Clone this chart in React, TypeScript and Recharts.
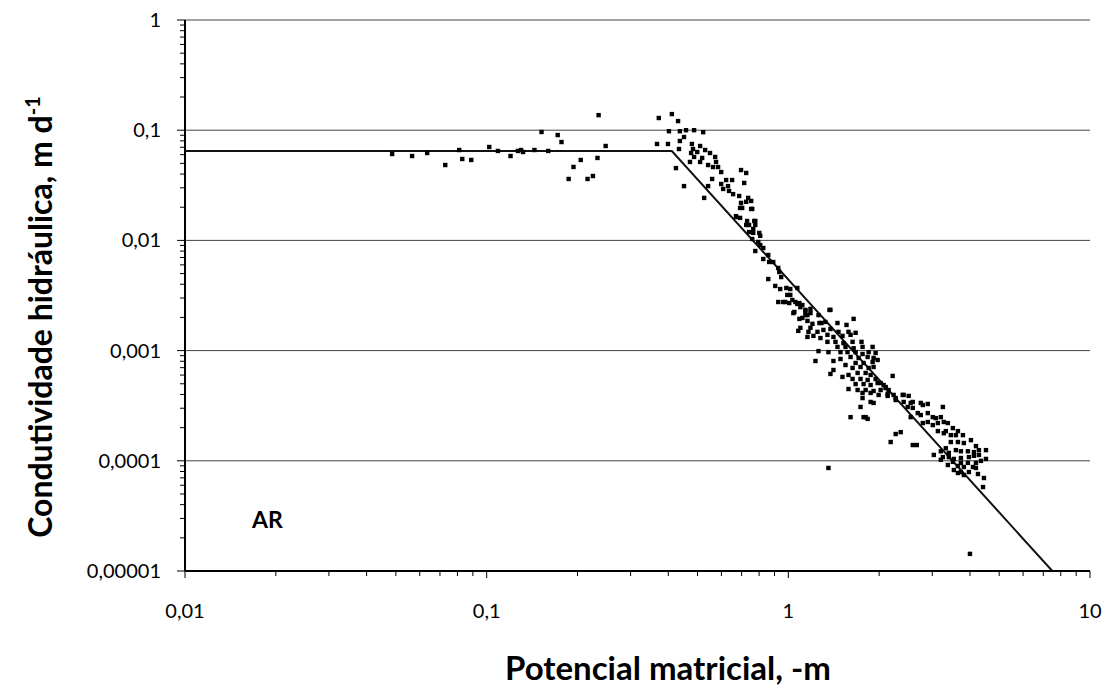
import { ReferenceLine, Scatter, ScatterChart, XAxis, YAxis } from "recharts";

// potencial matricial (-m) e condutividade hidráulica (m/d)
const potencial = [
  0.0486, 0.0566, 0.0635, 0.0729, 0.0811, 0.083, 0.0889, 0.102, 0.109, 0.12,
  0.127, 0.13, 0.132, 0.144, 0.152, 0.16, 0.172, 0.177, 0.187, 0.194,
  0.205, 0.216, 0.225, 0.233, 0.235, 0.248,
  0.372, 0.411, 0.431, 0.402, 0.437, 0.458, 0.487, 0.522, 0.451, 0.437,
  0.367, 0.399, 0.434, 0.479, 0.51, 0.483, 0.476, 0.499, 0.53, 0.55,
  0.487, 0.518, 0.572, 0.472, 0.51, 0.542, 0.563, 0.585, 0.599, 0.424,
  0.576, 0.697, 0.725, 0.559, 0.622, 0.651, 0.599, 0.631, 0.714, 0.451,
  0.542, 0.608, 0.636, 0.656, 0.687, 0.736, 0.526, 0.697, 0.725, 0.692,
  0.753, 0.671, 0.692, 0.73, 0.777, 0.725, 0.765, 0.741, 0.801,
  0.703, 0.753, 0.759, 0.671, 0.771, 0.741, 0.777, 0.765, 0.807, 0.759,
  0.795, 0.807, 0.777, 0.826, 0.858, 0.826, 0.864, 0.891, 0.926, 0.933,
  0.858, 0.947, 0.905, 0.94, 0.985, 1.015, 1.071, 1.015, 0.926, 0.977,
  1.031, 1.007, 1.055, 1.088, 1.096, 1.047, 1.139, 1.157, 1.184, 1.113,
  1.259, 1.369, 1.288, 1.184, 1.096,
  0.992, 0.962, 1.071, 1.113, 1.139, 1.379, 1.039, 1.139, 1.184, 1.088,
  1.157, 1.268, 1.327, 1.455, 1.559, 1.646, 1.202, 1.079, 1.166, 1.249,
  1.307, 1.379, 1.466, 1.583, 1.671, 1.157, 1.211, 1.278, 1.348, 1.411,
  1.512, 1.608, 1.348, 1.433, 1.523, 1.633, 1.748, 1.455, 1.547, 1.646,
  1.762, 1.903, 1.259, 1.358, 1.489, 1.571, 1.671, 1.762, 1.846, 1.947,
  1.608, 1.71, 1.832, 1.917, 1.23, 1.411, 1.489, 1.671, 1.776, 1.903,
  1.977, 1.547, 1.633, 1.735, 1.846, 1.917, 1.411, 1.379, 1.583, 1.697,
  1.804, 1.874, 1.512, 1.633, 1.735, 1.832, 1.947, 2.218, 1.671, 1.776,
  1.874, 2.023, 2.102, 1.583, 1.697, 1.804, 1.917, 2.023, 2.15, 1.762,
  1.874, 1.992, 2.134, 2.269, 2.412, 2.506, 1.762, 1.874, 1.735, 1.608,
  1.804,
  1.977, 2.07, 2.102, 2.134, 2.234, 2.394, 2.269, 2.412, 2.545, 2.585,
  2.748, 2.899, 1.917, 2.487, 2.585, 2.686, 2.791, 3.253, 2.545, 2.748,
  2.899, 3.012, 3.083, 3.203, 3.276, 3.379, 3.012, 3.131, 2.899, 2.791,
  1.776, 1.832, 3.131, 3.327, 3.511, 3.649, 3.276, 3.457, 3.593, 3.791,
  2.358, 2.269, 2.184, 3.457, 3.649, 3.818, 4.03, 4.187, 4.283, 4.52,
  4.123, 2.585, 2.666, 3.327, 3.593, 3.733, 3.938, 3.203, 3.404, 3.036,
  3.253, 3.404, 3.538, 3.733, 3.968, 4.123, 4.283, 4.52, 3.203, 3.511,
  3.733, 3.938, 4.187, 4.35, 3.379, 3.649, 3.818, 4.093, 3.538, 3.733,
  3.968, 4.187, 4.252, 4.451, 3.818, 3.649,
  1.358, 4.0, 4.42,
];

const condutividade = [
  0.0608, 0.0583, 0.0621, 0.0483, 0.0661, 0.0548, 0.0537, 0.0704, 0.0648, 0.0583,
  0.0648, 0.0661, 0.0634, 0.0661, 0.0963, 0.0648, 0.0904, 0.0781, 0.0361, 0.0464,
  0.0537, 0.0361, 0.0384, 0.056, 0.137, 0.0719,
  0.129, 0.14, 0.121, 0.0979, 0.0979, 0.1, 0.1, 0.0959, 0.0867, 0.0798,
  0.075, 0.075, 0.0675, 0.075, 0.0719, 0.0675, 0.0621, 0.0634, 0.0661, 0.0621,
  0.0572, 0.056, 0.0572, 0.0515, 0.0515, 0.0483, 0.0463, 0.0463, 0.0417, 0.0453,
  0.0515, 0.0435, 0.0409, 0.0361, 0.0353, 0.0353, 0.0325, 0.0311, 0.0332, 0.0311,
  0.0311, 0.0293, 0.0281, 0.0263, 0.0253, 0.0243, 0.0243, 0.0219, 0.0224, 0.0197,
  0.0193, 0.0166, 0.016, 0.015, 0.015, 0.0138, 0.0127, 0.0119, 0.0117,
  0.0197, 0.0228, 0.0193, 0.0163, 0.015, 0.0138, 0.0138, 0.0117, 0.011, 0.0103,
  0.00967, 0.00908, 0.00801, 0.00853, 0.00737, 0.00678, 0.00637, 0.00637, 0.00562, 0.00517,
  0.00446, 0.00465, 0.00386, 0.00362, 0.0037, 0.00362, 0.0037, 0.0032, 0.00276, 0.00276,
  0.00288, 0.0027, 0.00276, 0.0027, 0.00248, 0.00224, 0.00229, 0.0021, 0.00239, 0.00198,
  0.0021, 0.00234, 0.00178, 0.00161, 0.00161,
  0.0032, 0.00276, 0.00265, 0.00259, 0.00234, 0.00234, 0.00219, 0.0021, 0.00219, 0.00194,
  0.00186, 0.00178, 0.00182, 0.00178, 0.00171, 0.00194, 0.00175, 0.00151, 0.00148, 0.00148,
  0.00154, 0.00157, 0.00148, 0.00148, 0.00145, 0.00133, 0.00136, 0.0013, 0.00139, 0.00133,
  0.00136, 0.00139, 0.0012, 0.0012, 0.00117, 0.0012, 0.0012, 0.00108, 0.00108, 0.00105,
  0.00108, 0.00108, 0.000989, 0.000969, 0.000969, 0.000969, 0.000969, 0.000931, 0.000969, 0.000951,
  0.000875, 0.000857, 0.000875, 0.000857, 0.000805, 0.000805, 0.000839, 0.000772, 0.000772, 0.000788,
  0.000822, 0.00074, 0.000696, 0.00071, 0.000696, 0.00071, 0.000667, 0.000614, 0.000601, 0.000627,
  0.000627, 0.000601, 0.000577, 0.000553, 0.000553, 0.000541, 0.000553, 0.000589, 0.000497, 0.000497,
  0.000487, 0.000508, 0.000467, 0.000448, 0.000439, 0.000439, 0.00043, 0.000439, 0.000439, 0.000413,
  0.000413, 0.000396, 0.000388, 0.000371, 0.000396, 0.000388, 0.000371, 0.000342, 0.000308, 0.000249,
  0.000249,
  0.000508, 0.000487, 0.000457, 0.000404, 0.000396, 0.000396, 0.000356, 0.000342, 0.000335, 0.000342,
  0.000335, 0.000328, 0.000335, 0.000308, 0.000302, 0.000271, 0.000321, 0.000308, 0.000249, 0.00026,
  0.000271, 0.000249, 0.000244, 0.000249, 0.000225, 0.00022, 0.000211, 0.00022, 0.000225, 0.00022,
  0.000249, 0.00024, 0.000186, 0.000186, 0.000198, 0.000186, 0.000178, 0.000171, 0.000171, 0.000171,
  0.000182, 0.000175, 0.000148, 0.000148, 0.000148, 0.000145, 0.000154, 0.000136, 0.000125, 0.000125,
  0.00012, 0.000139, 0.000139, 0.00013, 0.000125, 0.000122, 0.000122, 0.000122, 0.000118, 0.000113,
  0.000108, 0.000108, 0.000104, 0.000106, 0.000108, 0.000111, 0.000113, 0.000104, 0.000102, 0.0000978,
  0.0000958, 0.0000958, 0.0000958, 0.0000998, 0.0000916, 0.0000897, 0.0000879, 0.0000879, 0.0000825, 0.0000791,
  0.0000791, 0.0000861, 0.0000759, 0.0000698, 0.0000743, 0.0000775,
  0.0000861, 0.0000143, 0.0000578,
];

// modelo ajustado (patamar + reta no log-log)
const ajustePotencial = [0.01, 0.411, 7.5];
const ajusteCondutividade = [0.0648, 0.0648, 0.00001];

const xMajor = [0.01, 0.1, 1, 10];
const yMajor = [0.00001, 0.0001, 0.001, 0.01, 0.1, 1];
const xLabels = ["0,01", "0,1", "1", "10"];
const yLabels = ["0,00001", "0,0001", "0,001", "0,01", "0,1", "1"];

const withMinors = (majors: number[]) => {
  const out: number[] = [];
  majors.forEach((m, i) => {
    out.push(m);
    if (i < majors.length - 1) {
      for (let k = 2; k <= 9; k++) out.push(+(m * k).toPrecision(3));
    }
  });
  return out;
};

const pontos = potencial.map((x, i) => ({ x, y: condutividade[i] }));
const ajuste = ajustePotencial.map((x, i) => ({ x, y: ajusteCondutividade[i] }));

const FONT = "Lato, 'Open Sans', sans-serif";

const XTick = (props: any) => {
  const { x, y, payload } = props;
  const i = xMajor.indexOf(payload.value);
  const major = i >= 0;
  return (
    <g>
      <line x1={x} x2={x} y1={y} y2={y + (major ? 7 : 5)} stroke="#000" strokeWidth={1} />
      {major && (
        <text x={x} y={y + 47} textAnchor="middle" fontSize={20} fontFamily={FONT} fill="#000">
          {xLabels[i]}
        </text>
      )}
    </g>
  );
};

const YTick = (props: any) => {
  const { x, y, payload } = props;
  const i = yMajor.indexOf(payload.value);
  const major = i >= 0;
  return (
    <g>
      <line x1={x - (major ? 8 : 5)} x2={x} y1={y} y2={y} stroke="#000" strokeWidth={1} />
      {major && (
        <text x={x - 24} y={y} dy="0.35em" textAnchor="end" fontSize={20} fontFamily={FONT} fill="#000">
          {yLabels[i]}
        </text>
      )}
    </g>
  );
};

const Square = (props: any) => {
  const { cx, cy } = props;
  return <rect x={cx - 2.2} y={cy - 2.2} width={4.4} height={4.4} fill="#000" />;
};

export default function App() {
  return (
    <div style={{ position: "absolute", left: 0, top: 0, background: "#fff" }}>
      <ScatterChart width={1107} height={689} margin={{ top: 20, right: 17, bottom: 0, left: 0 }}>
        {yMajor.map((v) => (
          <ReferenceLine key={v} y={v} stroke="#444" strokeWidth={1} />
        ))}
        <XAxis
          type="number"
          dataKey="x"
          scale="log"
          domain={[0.01, 10]}
          allowDataOverflow
          ticks={withMinors(xMajor)}
          interval={0}
          height={118}
          tickSize={0}
          tickMargin={0}
          tickLine={false}
          axisLine={{ stroke: "#000", strokeWidth: 2 }}
          tick={<XTick />}
          label={() => (
            <text x={668} y={680} textAnchor="middle" fontSize={33} fontWeight={700} fontFamily={FONT} fill="#000">
              Potencial matricial, -m
            </text>
          )}
        />
        <YAxis
          type="number"
          dataKey="y"
          scale="log"
          domain={[0.00001, 1]}
          allowDataOverflow
          ticks={withMinors(yMajor)}
          interval={0}
          width={185}
          tickSize={0}
          tickMargin={0}
          tickLine={false}
          axisLine={{ stroke: "#000", strokeWidth: 2 }}
          tick={<YTick />}
          label={() => {
            const cx = 41;
            const cy = 317;
            return (
              <text
                x={cx}
                y={cy}
                transform={`rotate(-90 ${cx} ${cy})`}
                textAnchor="middle"
                dy="0.35em"
                fontSize={32}
                fontWeight={700}
                fontFamily={FONT}
                fill="#000"
              >
                Condutividade hidráulica, m d
                <tspan dy={-12} fontSize={20}>-1</tspan>
              </text>
            );
          }}
        />
        <Scatter
          data={ajuste}
          line={{ stroke: "#111", strokeWidth: 2 }}
          shape={() => <g />}
          isAnimationActive={false}
        />
        <Scatter data={pontos} shape={<Square />} isAnimationActive={false} />
        <ReferenceLine
          x={0.01}
          stroke="none"
          label={() => (
            <text x={252} y={528} fontSize={23} fontWeight={700} fontFamily={FONT} fill="#000">
              AR
            </text>
          )}
        />
      </ScatterChart>
    </div>
  );
}
